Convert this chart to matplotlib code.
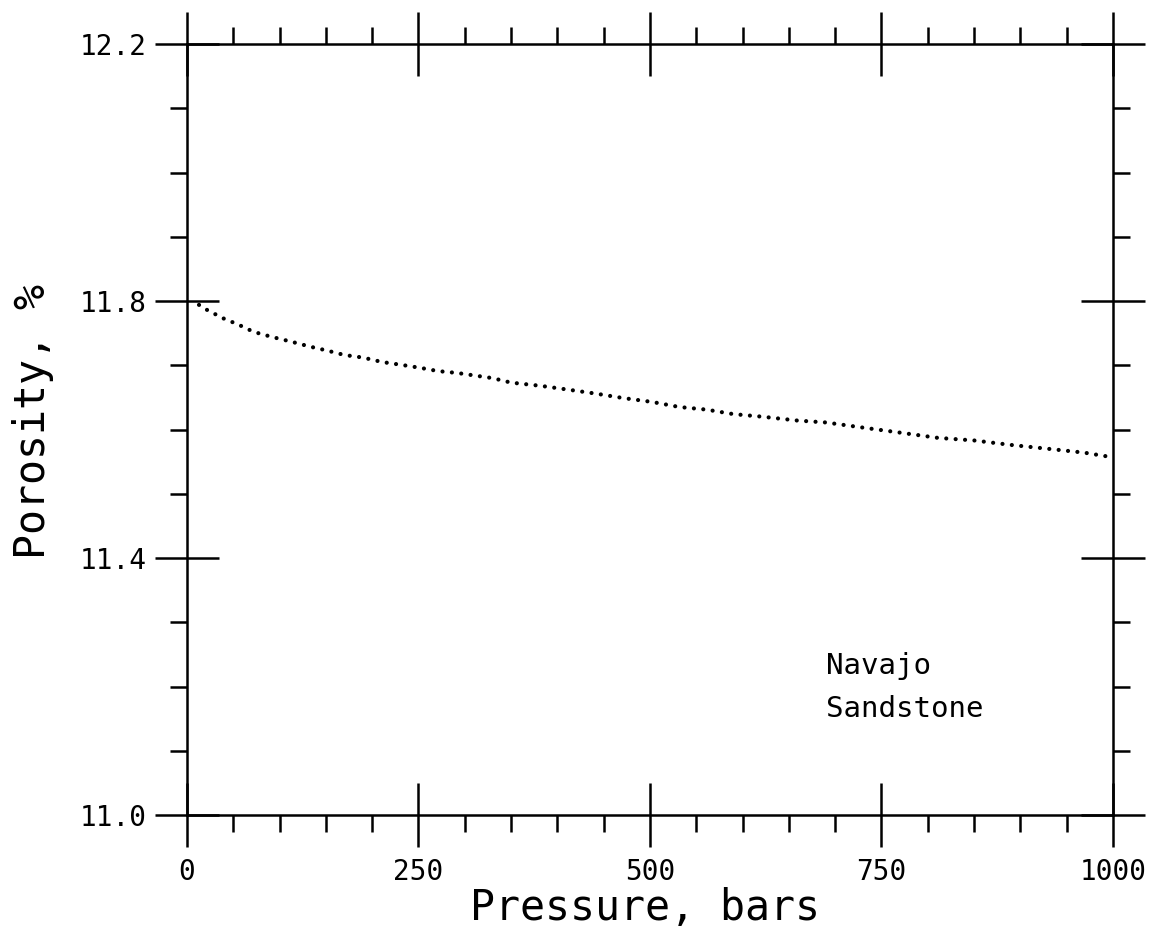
import matplotlib
matplotlib.use("Agg")
import matplotlib.pyplot as plt
from matplotlib.ticker import MultipleLocator

# values
pressure = [13, 23, 34, 42, 53, 72, 92, 112, 133, 151, 170, 190, 211, 230,
            252, 271, 292, 311, 330, 350, 382, 412, 441, 471, 502, 532, 561,
            590, 621, 659, 690, 730, 771, 811, 850, 890, 930, 969, 990, 1000]
porosity = [11.794, 11.785, 11.777, 11.771, 11.765, 11.752, 11.744, 11.737,
            11.729, 11.723, 11.716, 11.712, 11.705, 11.701, 11.696, 11.691,
            11.688, 11.684, 11.680, 11.673, 11.668, 11.662, 11.656, 11.649,
            11.643, 11.635, 11.631, 11.624, 11.620, 11.614, 11.611, 11.603,
            11.595, 11.587, 11.583, 11.576, 11.570, 11.564, 11.559, 11.557]

x_ticks = [0, 250, 500, 750, 1000]
y_ticks = [11.0, 11.4, 11.8, 12.2]
y_ticklabels = ["11.0", "11.4", "11.8", "12.2"]

mono = "DejaVu Sans Mono"

fig = plt.figure(figsize=(11.57, 9.41), dpi=100)
ax = fig.add_axes([0.1616, 0.1339, 0.8003, 0.8193])

# dotted curve, round dots roughly every 10 bars
line, = ax.plot(pressure, porosity, color="black", lw=3.0,
                dash_capstyle="round", clip_on=False)
line.set_dashes([0.01, 2.25])

ax.set_xlim(0, 1000)
ax.set_ylim(11.0, 12.2)

ax.set_xticks(x_ticks)
ax.set_xticklabels([str(v) for v in x_ticks])
ax.set_yticks(y_ticks)
ax.set_yticklabels(y_ticklabels)
ax.xaxis.set_minor_locator(MultipleLocator(50))
ax.yaxis.set_minor_locator(MultipleLocator(0.1))

ax.tick_params(which="major", direction="inout", length=46, width=1.8,
               top=True, right=True, labelsize=20, pad=6)
ax.tick_params(which="minor", direction="out", length=12, width=1.8,
               top=True, right=True)
ax.tick_params(axis="x", which="major", pad=8)
for lab in ax.get_xticklabels() + ax.get_yticklabels():
    lab.set_family(mono)

for sp in ax.spines.values():
    sp.set_linewidth(1.8)

ax.set_xlabel("Pressure, bars", fontsize=30, family=mono)
ax.set_ylabel("Porosity, %", fontsize=30, family=mono)
ax.xaxis.set_label_coords(0.495, -0.094)
ax.yaxis.set_label_coords(-0.1436, 0.511)

ax.text(690, 11.22, "Navajo", fontsize=21, family=mono, va="baseline")
ax.text(690, 11.153, "Sandstone", fontsize=21, family=mono, va="baseline")

fig.savefig("out.png", dpi=100)
